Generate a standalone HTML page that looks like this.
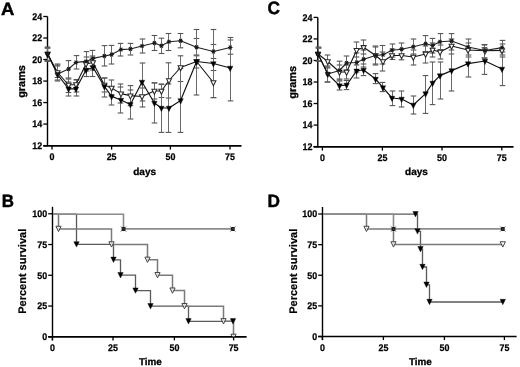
<!DOCTYPE html>
<html><head><meta charset="utf-8"><title>Figure</title><style>html,body{margin:0;padding:0;background:#fff;width:520px;height:367px;overflow:hidden;}body{position:relative;font-family:"Liberation Sans", sans-serif;}svg{position:absolute;left:0;top:0;font-family:"Liberation Sans", sans-serif;filter:grayscale(100%);}</style></head><body>
<svg width="520" height="367" viewBox="0 0 520 367" text-rendering="geometricPrecision" >
<rect width="520" height="367" fill="#fff"/>
<text transform="translate(0.9 14.8) scale(1.04 1)" font-size="17.8" font-weight="bold" fill="#000" stroke="#000" stroke-width="0.45">A</text>
<text transform="translate(267.6 14) scale(0.97 1)" font-size="17.8" font-weight="bold" fill="#000" stroke="#000" stroke-width="0.45">C</text>
<text transform="translate(1.8 207.3) scale(0.95 1)" font-size="17.8" font-weight="bold" fill="#000" stroke="#000" stroke-width="0.45">B</text>
<text transform="translate(267.4 207.2) scale(0.97 1)" font-size="17.8" font-weight="bold" fill="#000" stroke="#000" stroke-width="0.45">D</text>
<line x1="47.5" y1="16.5" x2="47.5" y2="146.2" stroke="#000" stroke-width="1.4" />
<line x1="43.3" y1="16.5" x2="47.5" y2="16.5" stroke="#000" stroke-width="1.3" />
<text transform="translate(42.2 19.9) scale(0.93 1)" font-size="9.6" font-weight="bold" text-anchor="end" fill="#000" stroke="#000" stroke-width="0.25">24</text>
<line x1="43.3" y1="38.02" x2="47.5" y2="38.02" stroke="#000" stroke-width="1.3" />
<text transform="translate(42.2 41.42) scale(0.93 1)" font-size="9.6" font-weight="bold" text-anchor="end" fill="#000" stroke="#000" stroke-width="0.25">22</text>
<line x1="43.3" y1="59.53" x2="47.5" y2="59.53" stroke="#000" stroke-width="1.3" />
<text transform="translate(42.2 62.93) scale(0.93 1)" font-size="9.6" font-weight="bold" text-anchor="end" fill="#000" stroke="#000" stroke-width="0.25">20</text>
<line x1="43.3" y1="81.05" x2="47.5" y2="81.05" stroke="#000" stroke-width="1.3" />
<text transform="translate(42.2 84.45) scale(0.93 1)" font-size="9.6" font-weight="bold" text-anchor="end" fill="#000" stroke="#000" stroke-width="0.25">18</text>
<line x1="43.3" y1="102.57" x2="47.5" y2="102.57" stroke="#000" stroke-width="1.3" />
<text transform="translate(42.2 105.97) scale(0.93 1)" font-size="9.6" font-weight="bold" text-anchor="end" fill="#000" stroke="#000" stroke-width="0.25">16</text>
<line x1="43.3" y1="124.08" x2="47.5" y2="124.08" stroke="#000" stroke-width="1.3" />
<text transform="translate(42.2 127.48) scale(0.93 1)" font-size="9.6" font-weight="bold" text-anchor="end" fill="#000" stroke="#000" stroke-width="0.25">14</text>
<line x1="43.3" y1="145.6" x2="47.5" y2="145.6" stroke="#000" stroke-width="1.3" />
<text transform="translate(42.2 149) scale(0.93 1)" font-size="9.6" font-weight="bold" text-anchor="end" fill="#000" stroke="#000" stroke-width="0.25">12</text>
<line x1="43.3" y1="145.9" x2="241.5" y2="145.9" stroke="#000" stroke-width="1.8" />
<line x1="52" y1="145.6" x2="52" y2="149.6" stroke="#000" stroke-width="1.3" />
<text transform="translate(52 160.2) scale(0.93 1)" font-size="9.6" font-weight="bold" text-anchor="middle" fill="#000" stroke="#000" stroke-width="0.25">0</text>
<line x1="111.6" y1="145.6" x2="111.6" y2="149.6" stroke="#000" stroke-width="1.3" />
<text transform="translate(111.6 160.2) scale(0.93 1)" font-size="9.6" font-weight="bold" text-anchor="middle" fill="#000" stroke="#000" stroke-width="0.25">25</text>
<line x1="170.4" y1="145.6" x2="170.4" y2="149.6" stroke="#000" stroke-width="1.3" />
<text transform="translate(170.4 160.2) scale(0.93 1)" font-size="9.6" font-weight="bold" text-anchor="middle" fill="#000" stroke="#000" stroke-width="0.25">50</text>
<line x1="230" y1="145.6" x2="230" y2="149.6" stroke="#000" stroke-width="1.3" />
<text transform="translate(230 160.2) scale(0.93 1)" font-size="9.6" font-weight="bold" text-anchor="middle" fill="#000" stroke="#000" stroke-width="0.25">75</text>
<text transform="translate(144.6 174.5)" font-size="10" font-weight="bold" text-anchor="middle" fill="#000" stroke="#000" stroke-width="0.3">days</text>
<text transform="translate(24.8 81.45) rotate(-90)" font-size="10.9" font-weight="bold" text-anchor="middle" fill="#000" stroke="#000" stroke-width="0.3">grams</text>
<line x1="47.5" y1="48" x2="47.5" y2="61" stroke="#6a6a6a" stroke-width="1.0" />
<line x1="44.7" y1="48" x2="50.3" y2="48" stroke="#555" stroke-width="1.1" />
<line x1="44.7" y1="61" x2="50.3" y2="61" stroke="#555" stroke-width="1.1" />
<line x1="57.5" y1="64" x2="57.5" y2="80" stroke="#6a6a6a" stroke-width="1.0" />
<line x1="54.7" y1="64" x2="60.3" y2="64" stroke="#555" stroke-width="1.1" />
<line x1="54.7" y1="80" x2="60.3" y2="80" stroke="#555" stroke-width="1.1" />
<line x1="68.5" y1="60.6" x2="68.5" y2="78" stroke="#6a6a6a" stroke-width="1.0" />
<line x1="65.7" y1="60.6" x2="71.3" y2="60.6" stroke="#555" stroke-width="1.1" />
<line x1="65.7" y1="78" x2="71.3" y2="78" stroke="#555" stroke-width="1.1" />
<line x1="76.5" y1="55.6" x2="76.5" y2="69" stroke="#6a6a6a" stroke-width="1.0" />
<line x1="73.7" y1="55.6" x2="79.3" y2="55.6" stroke="#555" stroke-width="1.1" />
<line x1="73.7" y1="69" x2="79.3" y2="69" stroke="#555" stroke-width="1.1" />
<line x1="86.5" y1="51.6" x2="86.5" y2="69" stroke="#6a6a6a" stroke-width="1.0" />
<line x1="83.7" y1="51.6" x2="89.3" y2="51.6" stroke="#555" stroke-width="1.1" />
<line x1="83.7" y1="69" x2="89.3" y2="69" stroke="#555" stroke-width="1.1" />
<line x1="92.5" y1="50.4" x2="92.5" y2="66" stroke="#6a6a6a" stroke-width="1.0" />
<line x1="89.7" y1="50.4" x2="95.3" y2="50.4" stroke="#555" stroke-width="1.1" />
<line x1="89.7" y1="66" x2="95.3" y2="66" stroke="#555" stroke-width="1.1" />
<line x1="104.5" y1="45.6" x2="104.5" y2="66" stroke="#6a6a6a" stroke-width="1.0" />
<line x1="101.7" y1="45.6" x2="107.3" y2="45.6" stroke="#555" stroke-width="1.1" />
<line x1="101.7" y1="66" x2="107.3" y2="66" stroke="#555" stroke-width="1.1" />
<line x1="111.5" y1="45.4" x2="111.5" y2="64" stroke="#6a6a6a" stroke-width="1.0" />
<line x1="108.7" y1="45.4" x2="114.3" y2="45.4" stroke="#555" stroke-width="1.1" />
<line x1="108.7" y1="64" x2="114.3" y2="64" stroke="#555" stroke-width="1.1" />
<line x1="120.5" y1="43.4" x2="120.5" y2="56" stroke="#6a6a6a" stroke-width="1.0" />
<line x1="117.7" y1="43.4" x2="123.3" y2="43.4" stroke="#555" stroke-width="1.1" />
<line x1="117.7" y1="56" x2="123.3" y2="56" stroke="#555" stroke-width="1.1" />
<line x1="130.5" y1="43.4" x2="130.5" y2="55" stroke="#6a6a6a" stroke-width="1.0" />
<line x1="127.7" y1="43.4" x2="133.3" y2="43.4" stroke="#555" stroke-width="1.1" />
<line x1="127.7" y1="55" x2="133.3" y2="55" stroke="#555" stroke-width="1.1" />
<line x1="142.5" y1="39" x2="142.5" y2="53" stroke="#6a6a6a" stroke-width="1.0" />
<line x1="139.7" y1="39" x2="145.3" y2="39" stroke="#555" stroke-width="1.1" />
<line x1="139.7" y1="53" x2="145.3" y2="53" stroke="#555" stroke-width="1.1" />
<line x1="154.5" y1="35.5" x2="154.5" y2="50.5" stroke="#6a6a6a" stroke-width="1.0" />
<line x1="151.7" y1="35.5" x2="157.3" y2="35.5" stroke="#555" stroke-width="1.1" />
<line x1="151.7" y1="50.5" x2="157.3" y2="50.5" stroke="#555" stroke-width="1.1" />
<line x1="161.5" y1="38.2" x2="161.5" y2="53.5" stroke="#6a6a6a" stroke-width="1.0" />
<line x1="158.7" y1="38.2" x2="164.3" y2="38.2" stroke="#555" stroke-width="1.1" />
<line x1="158.7" y1="53.5" x2="164.3" y2="53.5" stroke="#555" stroke-width="1.1" />
<line x1="168.5" y1="33.5" x2="168.5" y2="50.5" stroke="#6a6a6a" stroke-width="1.0" />
<line x1="165.7" y1="33.5" x2="171.3" y2="33.5" stroke="#555" stroke-width="1.1" />
<line x1="165.7" y1="50.5" x2="171.3" y2="50.5" stroke="#555" stroke-width="1.1" />
<line x1="180.5" y1="33.5" x2="180.5" y2="47.8" stroke="#6a6a6a" stroke-width="1.0" />
<line x1="177.7" y1="33.5" x2="183.3" y2="33.5" stroke="#555" stroke-width="1.1" />
<line x1="177.7" y1="47.8" x2="183.3" y2="47.8" stroke="#555" stroke-width="1.1" />
<line x1="196.5" y1="38.5" x2="196.5" y2="55.8" stroke="#6a6a6a" stroke-width="1.0" />
<line x1="193.7" y1="38.5" x2="199.3" y2="38.5" stroke="#555" stroke-width="1.1" />
<line x1="193.7" y1="55.8" x2="199.3" y2="55.8" stroke="#555" stroke-width="1.1" />
<line x1="213.5" y1="44.5" x2="213.5" y2="58.5" stroke="#6a6a6a" stroke-width="1.0" />
<line x1="210.7" y1="44.5" x2="216.3" y2="44.5" stroke="#555" stroke-width="1.1" />
<line x1="210.7" y1="58.5" x2="216.3" y2="58.5" stroke="#555" stroke-width="1.1" />
<line x1="230.5" y1="40" x2="230.5" y2="54.2" stroke="#6a6a6a" stroke-width="1.0" />
<line x1="227.7" y1="40" x2="233.3" y2="40" stroke="#555" stroke-width="1.1" />
<line x1="227.7" y1="54.2" x2="233.3" y2="54.2" stroke="#555" stroke-width="1.1" />
<line x1="47.5" y1="48" x2="47.5" y2="61" stroke="#6a6a6a" stroke-width="1.0" />
<line x1="44.7" y1="48" x2="50.3" y2="48" stroke="#555" stroke-width="1.1" />
<line x1="44.7" y1="61" x2="50.3" y2="61" stroke="#555" stroke-width="1.1" />
<line x1="57.5" y1="65" x2="57.5" y2="77.5" stroke="#6a6a6a" stroke-width="1.0" />
<line x1="54.7" y1="65" x2="60.3" y2="65" stroke="#555" stroke-width="1.1" />
<line x1="54.7" y1="77.5" x2="60.3" y2="77.5" stroke="#555" stroke-width="1.1" />
<line x1="68.5" y1="79" x2="68.5" y2="92.5" stroke="#6a6a6a" stroke-width="1.0" />
<line x1="65.7" y1="79" x2="71.3" y2="79" stroke="#555" stroke-width="1.1" />
<line x1="65.7" y1="92.5" x2="71.3" y2="92.5" stroke="#555" stroke-width="1.1" />
<line x1="76.5" y1="79.5" x2="76.5" y2="92" stroke="#6a6a6a" stroke-width="1.0" />
<line x1="73.7" y1="79.5" x2="79.3" y2="79.5" stroke="#555" stroke-width="1.1" />
<line x1="73.7" y1="92" x2="79.3" y2="92" stroke="#555" stroke-width="1.1" />
<line x1="86.5" y1="57" x2="86.5" y2="71" stroke="#6a6a6a" stroke-width="1.0" />
<line x1="83.7" y1="57" x2="89.3" y2="57" stroke="#555" stroke-width="1.1" />
<line x1="83.7" y1="71" x2="89.3" y2="71" stroke="#555" stroke-width="1.1" />
<line x1="92.5" y1="56" x2="92.5" y2="70" stroke="#6a6a6a" stroke-width="1.0" />
<line x1="89.7" y1="56" x2="95.3" y2="56" stroke="#555" stroke-width="1.1" />
<line x1="89.7" y1="70" x2="95.3" y2="70" stroke="#555" stroke-width="1.1" />
<line x1="104.5" y1="78" x2="104.5" y2="92" stroke="#6a6a6a" stroke-width="1.0" />
<line x1="101.7" y1="78" x2="107.3" y2="78" stroke="#555" stroke-width="1.1" />
<line x1="101.7" y1="92" x2="107.3" y2="92" stroke="#555" stroke-width="1.1" />
<line x1="111.5" y1="80" x2="111.5" y2="96" stroke="#6a6a6a" stroke-width="1.0" />
<line x1="108.7" y1="80" x2="114.3" y2="80" stroke="#555" stroke-width="1.1" />
<line x1="108.7" y1="96" x2="114.3" y2="96" stroke="#555" stroke-width="1.1" />
<line x1="120.5" y1="84" x2="120.5" y2="103" stroke="#6a6a6a" stroke-width="1.0" />
<line x1="117.7" y1="84" x2="123.3" y2="84" stroke="#555" stroke-width="1.1" />
<line x1="117.7" y1="103" x2="123.3" y2="103" stroke="#555" stroke-width="1.1" />
<line x1="130.5" y1="85.6" x2="130.5" y2="105.6" stroke="#6a6a6a" stroke-width="1.0" />
<line x1="127.7" y1="85.6" x2="133.3" y2="85.6" stroke="#555" stroke-width="1.1" />
<line x1="127.7" y1="105.6" x2="133.3" y2="105.6" stroke="#555" stroke-width="1.1" />
<line x1="142.5" y1="88" x2="142.5" y2="107" stroke="#6a6a6a" stroke-width="1.0" />
<line x1="139.7" y1="88" x2="145.3" y2="88" stroke="#555" stroke-width="1.1" />
<line x1="139.7" y1="107" x2="145.3" y2="107" stroke="#555" stroke-width="1.1" />
<line x1="154.5" y1="82.8" x2="154.5" y2="99" stroke="#6a6a6a" stroke-width="1.0" />
<line x1="151.7" y1="82.8" x2="157.3" y2="82.8" stroke="#555" stroke-width="1.1" />
<line x1="151.7" y1="99" x2="157.3" y2="99" stroke="#555" stroke-width="1.1" />
<line x1="161.5" y1="84.5" x2="161.5" y2="97.5" stroke="#6a6a6a" stroke-width="1.0" />
<line x1="158.7" y1="84.5" x2="164.3" y2="84.5" stroke="#555" stroke-width="1.1" />
<line x1="158.7" y1="97.5" x2="164.3" y2="97.5" stroke="#555" stroke-width="1.1" />
<line x1="168.5" y1="62.8" x2="168.5" y2="98" stroke="#6a6a6a" stroke-width="1.0" />
<line x1="165.7" y1="62.8" x2="171.3" y2="62.8" stroke="#555" stroke-width="1.1" />
<line x1="165.7" y1="98" x2="171.3" y2="98" stroke="#555" stroke-width="1.1" />
<line x1="180.5" y1="55.8" x2="180.5" y2="81.5" stroke="#6a6a6a" stroke-width="1.0" />
<line x1="177.7" y1="55.8" x2="183.3" y2="55.8" stroke="#555" stroke-width="1.1" />
<line x1="177.7" y1="81.5" x2="183.3" y2="81.5" stroke="#555" stroke-width="1.1" />
<line x1="196.5" y1="55" x2="196.5" y2="68" stroke="#6a6a6a" stroke-width="1.0" />
<line x1="193.7" y1="55" x2="199.3" y2="55" stroke="#555" stroke-width="1.1" />
<line x1="193.7" y1="68" x2="199.3" y2="68" stroke="#555" stroke-width="1.1" />
<line x1="213.5" y1="70.5" x2="213.5" y2="97.6" stroke="#6a6a6a" stroke-width="1.0" />
<line x1="210.7" y1="70.5" x2="216.3" y2="70.5" stroke="#555" stroke-width="1.1" />
<line x1="210.7" y1="97.6" x2="216.3" y2="97.6" stroke="#555" stroke-width="1.1" />
<line x1="47.5" y1="47" x2="47.5" y2="61" stroke="#6a6a6a" stroke-width="1.0" />
<line x1="44.7" y1="47" x2="50.3" y2="47" stroke="#555" stroke-width="1.1" />
<line x1="44.7" y1="61" x2="50.3" y2="61" stroke="#555" stroke-width="1.1" />
<line x1="57.5" y1="66" x2="57.5" y2="81" stroke="#6a6a6a" stroke-width="1.0" />
<line x1="54.7" y1="66" x2="60.3" y2="66" stroke="#555" stroke-width="1.1" />
<line x1="54.7" y1="81" x2="60.3" y2="81" stroke="#555" stroke-width="1.1" />
<line x1="68.5" y1="82" x2="68.5" y2="96" stroke="#6a6a6a" stroke-width="1.0" />
<line x1="65.7" y1="82" x2="71.3" y2="82" stroke="#555" stroke-width="1.1" />
<line x1="65.7" y1="96" x2="71.3" y2="96" stroke="#555" stroke-width="1.1" />
<line x1="76.5" y1="80" x2="76.5" y2="96" stroke="#6a6a6a" stroke-width="1.0" />
<line x1="73.7" y1="80" x2="79.3" y2="80" stroke="#555" stroke-width="1.1" />
<line x1="73.7" y1="96" x2="79.3" y2="96" stroke="#555" stroke-width="1.1" />
<line x1="86.5" y1="61" x2="86.5" y2="76.5" stroke="#6a6a6a" stroke-width="1.0" />
<line x1="83.7" y1="61" x2="89.3" y2="61" stroke="#555" stroke-width="1.1" />
<line x1="83.7" y1="76.5" x2="89.3" y2="76.5" stroke="#555" stroke-width="1.1" />
<line x1="92.5" y1="58" x2="92.5" y2="76.5" stroke="#6a6a6a" stroke-width="1.0" />
<line x1="89.7" y1="58" x2="95.3" y2="58" stroke="#555" stroke-width="1.1" />
<line x1="89.7" y1="76.5" x2="95.3" y2="76.5" stroke="#555" stroke-width="1.1" />
<line x1="104.5" y1="78" x2="104.5" y2="97" stroke="#6a6a6a" stroke-width="1.0" />
<line x1="101.7" y1="78" x2="107.3" y2="78" stroke="#555" stroke-width="1.1" />
<line x1="101.7" y1="97" x2="107.3" y2="97" stroke="#555" stroke-width="1.1" />
<line x1="111.5" y1="87" x2="111.5" y2="105" stroke="#6a6a6a" stroke-width="1.0" />
<line x1="108.7" y1="87" x2="114.3" y2="87" stroke="#555" stroke-width="1.1" />
<line x1="108.7" y1="105" x2="114.3" y2="105" stroke="#555" stroke-width="1.1" />
<line x1="120.5" y1="87" x2="120.5" y2="113" stroke="#6a6a6a" stroke-width="1.0" />
<line x1="117.7" y1="87" x2="123.3" y2="87" stroke="#555" stroke-width="1.1" />
<line x1="117.7" y1="113" x2="123.3" y2="113" stroke="#555" stroke-width="1.1" />
<line x1="130.5" y1="90" x2="130.5" y2="119" stroke="#6a6a6a" stroke-width="1.0" />
<line x1="127.7" y1="90" x2="133.3" y2="90" stroke="#555" stroke-width="1.1" />
<line x1="127.7" y1="119" x2="133.3" y2="119" stroke="#555" stroke-width="1.1" />
<line x1="142.5" y1="63" x2="142.5" y2="101" stroke="#6a6a6a" stroke-width="1.0" />
<line x1="139.7" y1="63" x2="145.3" y2="63" stroke="#555" stroke-width="1.1" />
<line x1="139.7" y1="101" x2="145.3" y2="101" stroke="#555" stroke-width="1.1" />
<line x1="154.5" y1="83" x2="154.5" y2="123" stroke="#6a6a6a" stroke-width="1.0" />
<line x1="151.7" y1="83" x2="157.3" y2="83" stroke="#555" stroke-width="1.1" />
<line x1="151.7" y1="123" x2="157.3" y2="123" stroke="#555" stroke-width="1.1" />
<line x1="161.5" y1="84" x2="161.5" y2="132.4" stroke="#6a6a6a" stroke-width="1.0" />
<line x1="158.7" y1="84" x2="164.3" y2="84" stroke="#555" stroke-width="1.1" />
<line x1="158.7" y1="132.4" x2="164.3" y2="132.4" stroke="#555" stroke-width="1.1" />
<line x1="168.5" y1="84" x2="168.5" y2="132.4" stroke="#6a6a6a" stroke-width="1.0" />
<line x1="165.7" y1="84" x2="171.3" y2="84" stroke="#555" stroke-width="1.1" />
<line x1="165.7" y1="132.4" x2="171.3" y2="132.4" stroke="#555" stroke-width="1.1" />
<line x1="180.5" y1="68.6" x2="180.5" y2="132.4" stroke="#6a6a6a" stroke-width="1.0" />
<line x1="177.7" y1="68.6" x2="183.3" y2="68.6" stroke="#555" stroke-width="1.1" />
<line x1="177.7" y1="132.4" x2="183.3" y2="132.4" stroke="#555" stroke-width="1.1" />
<line x1="196.5" y1="29.5" x2="196.5" y2="95" stroke="#6a6a6a" stroke-width="1.0" />
<line x1="193.7" y1="29.5" x2="199.3" y2="29.5" stroke="#555" stroke-width="1.1" />
<line x1="193.7" y1="95" x2="199.3" y2="95" stroke="#555" stroke-width="1.1" />
<line x1="213.5" y1="29.5" x2="213.5" y2="97.6" stroke="#6a6a6a" stroke-width="1.0" />
<line x1="210.7" y1="29.5" x2="216.3" y2="29.5" stroke="#555" stroke-width="1.1" />
<line x1="210.7" y1="97.6" x2="216.3" y2="97.6" stroke="#555" stroke-width="1.1" />
<line x1="230.5" y1="37.5" x2="230.5" y2="100.9" stroke="#6a6a6a" stroke-width="1.0" />
<line x1="227.7" y1="37.5" x2="233.3" y2="37.5" stroke="#555" stroke-width="1.1" />
<line x1="227.7" y1="100.9" x2="233.3" y2="100.9" stroke="#555" stroke-width="1.1" />
<polyline points="47.6,54 57.6,74 68.6,69 76,62.4 86,61.4 93,58.4 104.4,56 111.6,54.6 121,49.6 130.4,49 142,46 154.4,43 161.4,45.8 169,41.8 180.6,40.8 196.6,47.2 213.4,51.5 230.2,47.5" fill="none" stroke="#222" stroke-width="1.1" stroke-linejoin="round"/>
<polyline points="47.6,54 57.6,72.5 68.6,85 76,84.5 86,64 93,62.5 104.4,85 111.6,88 121,93.6 130.4,95.6 142,96.5 154.4,91 161.4,91 169,80.5 180.6,67.5 196.6,61.5 213.4,82.5" fill="none" stroke="#151515" stroke-width="1.1" stroke-linejoin="round"/>
<polyline points="47.6,54 57.6,74.5 68.6,88.8 76,88.8 86,70 93,67.5 104.4,86.4 111.6,96.4 121,100 130.4,104.4 142,82 154.4,103 161.4,108 169,108 180.6,100.5 196.6,61.5 213.4,63.5 230.2,68" fill="none" stroke="#111" stroke-width="1.15" stroke-linejoin="round"/>
<polygon points="45.1,52.33 50.1,52.33 47.6,57.33" fill="#fff" fill-opacity="1.0" stroke="#2a2a2a" stroke-width="1.05" stroke-linejoin="miter"/>
<polygon points="55.1,70.83 60.1,70.83 57.6,75.83" fill="#fff" fill-opacity="1.0" stroke="#2a2a2a" stroke-width="1.05" stroke-linejoin="miter"/>
<polygon points="66.1,83.33 71.1,83.33 68.6,88.33" fill="#fff" fill-opacity="1.0" stroke="#2a2a2a" stroke-width="1.05" stroke-linejoin="miter"/>
<polygon points="73.5,82.83 78.5,82.83 76,87.83" fill="#fff" fill-opacity="1.0" stroke="#2a2a2a" stroke-width="1.05" stroke-linejoin="miter"/>
<polygon points="83.5,62.33 88.5,62.33 86,67.33" fill="#fff" fill-opacity="1.0" stroke="#2a2a2a" stroke-width="1.05" stroke-linejoin="miter"/>
<polygon points="90.5,60.83 95.5,60.83 93,65.83" fill="#fff" fill-opacity="1.0" stroke="#2a2a2a" stroke-width="1.05" stroke-linejoin="miter"/>
<polygon points="101.9,83.33 106.9,83.33 104.4,88.33" fill="#fff" fill-opacity="1.0" stroke="#2a2a2a" stroke-width="1.05" stroke-linejoin="miter"/>
<polygon points="109.1,86.33 114.1,86.33 111.6,91.33" fill="#fff" fill-opacity="1.0" stroke="#2a2a2a" stroke-width="1.05" stroke-linejoin="miter"/>
<polygon points="118.5,91.93 123.5,91.93 121,96.93" fill="#fff" fill-opacity="1.0" stroke="#2a2a2a" stroke-width="1.05" stroke-linejoin="miter"/>
<polygon points="127.9,93.93 132.9,93.93 130.4,98.93" fill="#fff" fill-opacity="1.0" stroke="#2a2a2a" stroke-width="1.05" stroke-linejoin="miter"/>
<polygon points="139.5,94.83 144.5,94.83 142,99.83" fill="#fff" fill-opacity="1.0" stroke="#2a2a2a" stroke-width="1.05" stroke-linejoin="miter"/>
<polygon points="151.9,89.33 156.9,89.33 154.4,94.33" fill="#fff" fill-opacity="1.0" stroke="#2a2a2a" stroke-width="1.05" stroke-linejoin="miter"/>
<polygon points="158.9,89.33 163.9,89.33 161.4,94.33" fill="#fff" fill-opacity="1.0" stroke="#2a2a2a" stroke-width="1.05" stroke-linejoin="miter"/>
<polygon points="166.5,78.83 171.5,78.83 169,83.83" fill="#fff" fill-opacity="1.0" stroke="#2a2a2a" stroke-width="1.05" stroke-linejoin="miter"/>
<polygon points="178.1,65.83 183.1,65.83 180.6,70.83" fill="#fff" fill-opacity="1.0" stroke="#2a2a2a" stroke-width="1.05" stroke-linejoin="miter"/>
<polygon points="194.1,59.83 199.1,59.83 196.6,64.83" fill="#fff" fill-opacity="1.0" stroke="#2a2a2a" stroke-width="1.05" stroke-linejoin="miter"/>
<polygon points="210.9,80.83 215.9,80.83 213.4,85.83" fill="#fff" fill-opacity="1.0" stroke="#2a2a2a" stroke-width="1.05" stroke-linejoin="miter"/>
<polygon points="44.9,52.2 50.3,52.2 47.6,57.6" fill="#000" stroke="#000" stroke-width="0.4"/>
<polygon points="54.9,72.7 60.3,72.7 57.6,78.1" fill="#000" stroke="#000" stroke-width="0.4"/>
<polygon points="65.9,87 71.3,87 68.6,92.4" fill="#000" stroke="#000" stroke-width="0.4"/>
<polygon points="73.3,87 78.7,87 76,92.4" fill="#000" stroke="#000" stroke-width="0.4"/>
<polygon points="83.3,68.2 88.7,68.2 86,73.6" fill="#000" stroke="#000" stroke-width="0.4"/>
<polygon points="90.3,65.7 95.7,65.7 93,71.1" fill="#000" stroke="#000" stroke-width="0.4"/>
<polygon points="101.7,84.6 107.1,84.6 104.4,90" fill="#000" stroke="#000" stroke-width="0.4"/>
<polygon points="108.9,94.6 114.3,94.6 111.6,100" fill="#000" stroke="#000" stroke-width="0.4"/>
<polygon points="118.3,98.2 123.7,98.2 121,103.6" fill="#000" stroke="#000" stroke-width="0.4"/>
<polygon points="127.7,102.6 133.1,102.6 130.4,108" fill="#000" stroke="#000" stroke-width="0.4"/>
<polygon points="139.3,80.2 144.7,80.2 142,85.6" fill="#000" stroke="#000" stroke-width="0.4"/>
<polygon points="151.7,101.2 157.1,101.2 154.4,106.6" fill="#000" stroke="#000" stroke-width="0.4"/>
<polygon points="158.7,106.2 164.1,106.2 161.4,111.6" fill="#000" stroke="#000" stroke-width="0.4"/>
<polygon points="166.3,106.2 171.7,106.2 169,111.6" fill="#000" stroke="#000" stroke-width="0.4"/>
<polygon points="177.9,98.7 183.3,98.7 180.6,104.1" fill="#000" stroke="#000" stroke-width="0.4"/>
<polygon points="193.9,59.7 199.3,59.7 196.6,65.1" fill="#000" stroke="#000" stroke-width="0.4"/>
<polygon points="210.7,61.7 216.1,61.7 213.4,67.1" fill="#000" stroke="#000" stroke-width="0.4"/>
<polygon points="227.5,66.2 232.9,66.2 230.2,71.6" fill="#000" stroke="#000" stroke-width="0.4"/>
<g stroke="#1a1a1a" stroke-width="1.1"><line x1="45.3" y1="54" x2="49.9" y2="54"/><line x1="46.22" y1="52.05" x2="48.98" y2="55.95"/><line x1="46.22" y1="55.95" x2="48.98" y2="52.05"/></g>
<circle cx="47.6" cy="54" r="1.25" fill="#1a1a1a"/>
<g stroke="#1a1a1a" stroke-width="1.1"><line x1="55.3" y1="74" x2="59.9" y2="74"/><line x1="56.22" y1="72.05" x2="58.98" y2="75.95"/><line x1="56.22" y1="75.95" x2="58.98" y2="72.05"/></g>
<circle cx="57.6" cy="74" r="1.25" fill="#1a1a1a"/>
<g stroke="#1a1a1a" stroke-width="1.1"><line x1="66.3" y1="69" x2="70.9" y2="69"/><line x1="67.22" y1="67.05" x2="69.98" y2="70.95"/><line x1="67.22" y1="70.95" x2="69.98" y2="67.05"/></g>
<circle cx="68.6" cy="69" r="1.25" fill="#1a1a1a"/>
<g stroke="#1a1a1a" stroke-width="1.1"><line x1="73.7" y1="62.4" x2="78.3" y2="62.4"/><line x1="74.62" y1="60.45" x2="77.38" y2="64.36"/><line x1="74.62" y1="64.36" x2="77.38" y2="60.45"/></g>
<circle cx="76" cy="62.4" r="1.25" fill="#1a1a1a"/>
<g stroke="#1a1a1a" stroke-width="1.1"><line x1="83.7" y1="61.4" x2="88.3" y2="61.4"/><line x1="84.62" y1="59.45" x2="87.38" y2="63.35"/><line x1="84.62" y1="63.35" x2="87.38" y2="59.45"/></g>
<circle cx="86" cy="61.4" r="1.25" fill="#1a1a1a"/>
<g stroke="#1a1a1a" stroke-width="1.1"><line x1="90.7" y1="58.4" x2="95.3" y2="58.4"/><line x1="91.62" y1="56.45" x2="94.38" y2="60.35"/><line x1="91.62" y1="60.35" x2="94.38" y2="56.45"/></g>
<circle cx="93" cy="58.4" r="1.25" fill="#1a1a1a"/>
<g stroke="#1a1a1a" stroke-width="1.1"><line x1="102.1" y1="56" x2="106.7" y2="56"/><line x1="103.02" y1="54.05" x2="105.78" y2="57.95"/><line x1="103.02" y1="57.95" x2="105.78" y2="54.05"/></g>
<circle cx="104.4" cy="56" r="1.25" fill="#1a1a1a"/>
<g stroke="#1a1a1a" stroke-width="1.1"><line x1="109.3" y1="54.6" x2="113.9" y2="54.6"/><line x1="110.22" y1="52.65" x2="112.98" y2="56.55"/><line x1="110.22" y1="56.55" x2="112.98" y2="52.65"/></g>
<circle cx="111.6" cy="54.6" r="1.25" fill="#1a1a1a"/>
<g stroke="#1a1a1a" stroke-width="1.1"><line x1="118.7" y1="49.6" x2="123.3" y2="49.6"/><line x1="119.62" y1="47.65" x2="122.38" y2="51.55"/><line x1="119.62" y1="51.55" x2="122.38" y2="47.65"/></g>
<circle cx="121" cy="49.6" r="1.25" fill="#1a1a1a"/>
<g stroke="#1a1a1a" stroke-width="1.1"><line x1="128.1" y1="49" x2="132.7" y2="49"/><line x1="129.02" y1="47.05" x2="131.78" y2="50.95"/><line x1="129.02" y1="50.95" x2="131.78" y2="47.05"/></g>
<circle cx="130.4" cy="49" r="1.25" fill="#1a1a1a"/>
<g stroke="#1a1a1a" stroke-width="1.1"><line x1="139.7" y1="46" x2="144.3" y2="46"/><line x1="140.62" y1="44.05" x2="143.38" y2="47.95"/><line x1="140.62" y1="47.95" x2="143.38" y2="44.05"/></g>
<circle cx="142" cy="46" r="1.25" fill="#1a1a1a"/>
<g stroke="#1a1a1a" stroke-width="1.1"><line x1="152.1" y1="43" x2="156.7" y2="43"/><line x1="153.02" y1="41.05" x2="155.78" y2="44.95"/><line x1="153.02" y1="44.95" x2="155.78" y2="41.05"/></g>
<circle cx="154.4" cy="43" r="1.25" fill="#1a1a1a"/>
<g stroke="#1a1a1a" stroke-width="1.1"><line x1="159.1" y1="45.8" x2="163.7" y2="45.8"/><line x1="160.02" y1="43.84" x2="162.78" y2="47.75"/><line x1="160.02" y1="47.75" x2="162.78" y2="43.84"/></g>
<circle cx="161.4" cy="45.8" r="1.25" fill="#1a1a1a"/>
<g stroke="#1a1a1a" stroke-width="1.1"><line x1="166.7" y1="41.8" x2="171.3" y2="41.8"/><line x1="167.62" y1="39.84" x2="170.38" y2="43.75"/><line x1="167.62" y1="43.75" x2="170.38" y2="39.84"/></g>
<circle cx="169" cy="41.8" r="1.25" fill="#1a1a1a"/>
<g stroke="#1a1a1a" stroke-width="1.1"><line x1="178.3" y1="40.8" x2="182.9" y2="40.8"/><line x1="179.22" y1="38.84" x2="181.98" y2="42.75"/><line x1="179.22" y1="42.75" x2="181.98" y2="38.84"/></g>
<circle cx="180.6" cy="40.8" r="1.25" fill="#1a1a1a"/>
<g stroke="#1a1a1a" stroke-width="1.1"><line x1="194.3" y1="47.2" x2="198.9" y2="47.2"/><line x1="195.22" y1="45.25" x2="197.98" y2="49.16"/><line x1="195.22" y1="49.16" x2="197.98" y2="45.25"/></g>
<circle cx="196.6" cy="47.2" r="1.25" fill="#1a1a1a"/>
<g stroke="#1a1a1a" stroke-width="1.1"><line x1="211.1" y1="51.5" x2="215.7" y2="51.5"/><line x1="212.02" y1="49.55" x2="214.78" y2="53.45"/><line x1="212.02" y1="53.45" x2="214.78" y2="49.55"/></g>
<circle cx="213.4" cy="51.5" r="1.25" fill="#1a1a1a"/>
<g stroke="#1a1a1a" stroke-width="1.1"><line x1="227.9" y1="47.5" x2="232.5" y2="47.5"/><line x1="228.82" y1="45.55" x2="231.58" y2="49.45"/><line x1="228.82" y1="49.45" x2="231.58" y2="45.55"/></g>
<circle cx="230.2" cy="47.5" r="1.25" fill="#1a1a1a"/>
<line x1="317.8" y1="17.4" x2="317.8" y2="147.2" stroke="#000" stroke-width="1.4" />
<line x1="313.6" y1="17.4" x2="317.8" y2="17.4" stroke="#000" stroke-width="1.3" />
<text transform="translate(312.5 20.8) scale(0.93 1)" font-size="9.6" font-weight="bold" text-anchor="end" fill="#000" stroke="#000" stroke-width="0.25">24</text>
<line x1="313.6" y1="38.93" x2="317.8" y2="38.93" stroke="#000" stroke-width="1.3" />
<text transform="translate(312.5 42.33) scale(0.93 1)" font-size="9.6" font-weight="bold" text-anchor="end" fill="#000" stroke="#000" stroke-width="0.25">22</text>
<line x1="313.6" y1="60.47" x2="317.8" y2="60.47" stroke="#000" stroke-width="1.3" />
<text transform="translate(312.5 63.87) scale(0.93 1)" font-size="9.6" font-weight="bold" text-anchor="end" fill="#000" stroke="#000" stroke-width="0.25">20</text>
<line x1="313.6" y1="82" x2="317.8" y2="82" stroke="#000" stroke-width="1.3" />
<text transform="translate(312.5 85.4) scale(0.93 1)" font-size="9.6" font-weight="bold" text-anchor="end" fill="#000" stroke="#000" stroke-width="0.25">18</text>
<line x1="313.6" y1="103.53" x2="317.8" y2="103.53" stroke="#000" stroke-width="1.3" />
<text transform="translate(312.5 106.93) scale(0.93 1)" font-size="9.6" font-weight="bold" text-anchor="end" fill="#000" stroke="#000" stroke-width="0.25">16</text>
<line x1="313.6" y1="125.07" x2="317.8" y2="125.07" stroke="#000" stroke-width="1.3" />
<text transform="translate(312.5 128.47) scale(0.93 1)" font-size="9.6" font-weight="bold" text-anchor="end" fill="#000" stroke="#000" stroke-width="0.25">14</text>
<line x1="313.6" y1="146.6" x2="317.8" y2="146.6" stroke="#000" stroke-width="1.3" />
<text transform="translate(312.5 150) scale(0.93 1)" font-size="9.6" font-weight="bold" text-anchor="end" fill="#000" stroke="#000" stroke-width="0.25">12</text>
<line x1="313.6" y1="146.9" x2="513.5" y2="146.9" stroke="#000" stroke-width="1.8" />
<line x1="322.4" y1="146.6" x2="322.4" y2="150.6" stroke="#000" stroke-width="1.3" />
<text transform="translate(322.4 161.2) scale(0.93 1)" font-size="9.6" font-weight="bold" text-anchor="middle" fill="#000" stroke="#000" stroke-width="0.25">0</text>
<line x1="382.4" y1="146.6" x2="382.4" y2="150.6" stroke="#000" stroke-width="1.3" />
<text transform="translate(382.4 161.2) scale(0.93 1)" font-size="9.6" font-weight="bold" text-anchor="middle" fill="#000" stroke="#000" stroke-width="0.25">25</text>
<line x1="442" y1="146.6" x2="442" y2="150.6" stroke="#000" stroke-width="1.3" />
<text transform="translate(442 161.2) scale(0.93 1)" font-size="9.6" font-weight="bold" text-anchor="middle" fill="#000" stroke="#000" stroke-width="0.25">50</text>
<line x1="501.8" y1="146.6" x2="501.8" y2="150.6" stroke="#000" stroke-width="1.3" />
<text transform="translate(501.8 161.2) scale(0.93 1)" font-size="9.6" font-weight="bold" text-anchor="middle" fill="#000" stroke="#000" stroke-width="0.25">75</text>
<text transform="translate(416.5 174.7)" font-size="10" font-weight="bold" text-anchor="middle" fill="#000" stroke="#000" stroke-width="0.3">days</text>
<text transform="translate(295.7 82.4) rotate(-90)" font-size="10.9" font-weight="bold" text-anchor="middle" fill="#000" stroke="#000" stroke-width="0.3">grams</text>
<line x1="318.5" y1="48" x2="318.5" y2="61" stroke="#6a6a6a" stroke-width="1.0" />
<line x1="315.7" y1="48" x2="321.3" y2="48" stroke="#555" stroke-width="1.1" />
<line x1="315.7" y1="61" x2="321.3" y2="61" stroke="#555" stroke-width="1.1" />
<line x1="327.5" y1="66" x2="327.5" y2="82" stroke="#6a6a6a" stroke-width="1.0" />
<line x1="324.7" y1="66" x2="330.3" y2="66" stroke="#555" stroke-width="1.1" />
<line x1="324.7" y1="82" x2="330.3" y2="82" stroke="#555" stroke-width="1.1" />
<line x1="339.5" y1="61.2" x2="339.5" y2="80" stroke="#6a6a6a" stroke-width="1.0" />
<line x1="336.7" y1="61.2" x2="342.3" y2="61.2" stroke="#555" stroke-width="1.1" />
<line x1="336.7" y1="80" x2="342.3" y2="80" stroke="#555" stroke-width="1.1" />
<line x1="346.5" y1="56" x2="346.5" y2="70" stroke="#6a6a6a" stroke-width="1.0" />
<line x1="343.7" y1="56" x2="349.3" y2="56" stroke="#555" stroke-width="1.1" />
<line x1="343.7" y1="70" x2="349.3" y2="70" stroke="#555" stroke-width="1.1" />
<line x1="356.5" y1="53" x2="356.5" y2="72" stroke="#6a6a6a" stroke-width="1.0" />
<line x1="353.7" y1="53" x2="359.3" y2="53" stroke="#555" stroke-width="1.1" />
<line x1="353.7" y1="72" x2="359.3" y2="72" stroke="#555" stroke-width="1.1" />
<line x1="363.5" y1="50" x2="363.5" y2="67" stroke="#6a6a6a" stroke-width="1.0" />
<line x1="360.7" y1="50" x2="366.3" y2="50" stroke="#555" stroke-width="1.1" />
<line x1="360.7" y1="67" x2="366.3" y2="67" stroke="#555" stroke-width="1.1" />
<line x1="375.5" y1="46" x2="375.5" y2="65" stroke="#6a6a6a" stroke-width="1.0" />
<line x1="372.7" y1="46" x2="378.3" y2="46" stroke="#555" stroke-width="1.1" />
<line x1="372.7" y1="65" x2="378.3" y2="65" stroke="#555" stroke-width="1.1" />
<line x1="382.5" y1="45.5" x2="382.5" y2="64" stroke="#6a6a6a" stroke-width="1.0" />
<line x1="379.7" y1="45.5" x2="385.3" y2="45.5" stroke="#555" stroke-width="1.1" />
<line x1="379.7" y1="64" x2="385.3" y2="64" stroke="#555" stroke-width="1.1" />
<line x1="392.5" y1="44" x2="392.5" y2="57" stroke="#6a6a6a" stroke-width="1.0" />
<line x1="389.7" y1="44" x2="395.3" y2="44" stroke="#555" stroke-width="1.1" />
<line x1="389.7" y1="57" x2="395.3" y2="57" stroke="#555" stroke-width="1.1" />
<line x1="401.5" y1="43" x2="401.5" y2="55.5" stroke="#6a6a6a" stroke-width="1.0" />
<line x1="398.7" y1="43" x2="404.3" y2="43" stroke="#555" stroke-width="1.1" />
<line x1="398.7" y1="55.5" x2="404.3" y2="55.5" stroke="#555" stroke-width="1.1" />
<line x1="413.5" y1="39" x2="413.5" y2="54" stroke="#6a6a6a" stroke-width="1.0" />
<line x1="410.7" y1="39" x2="416.3" y2="39" stroke="#555" stroke-width="1.1" />
<line x1="410.7" y1="54" x2="416.3" y2="54" stroke="#555" stroke-width="1.1" />
<line x1="425.5" y1="35.6" x2="425.5" y2="51.5" stroke="#6a6a6a" stroke-width="1.0" />
<line x1="422.7" y1="35.6" x2="428.3" y2="35.6" stroke="#555" stroke-width="1.1" />
<line x1="422.7" y1="51.5" x2="428.3" y2="51.5" stroke="#555" stroke-width="1.1" />
<line x1="432.5" y1="38.4" x2="432.5" y2="53" stroke="#6a6a6a" stroke-width="1.0" />
<line x1="429.7" y1="38.4" x2="435.3" y2="38.4" stroke="#555" stroke-width="1.1" />
<line x1="429.7" y1="53" x2="435.3" y2="53" stroke="#555" stroke-width="1.1" />
<line x1="440.5" y1="33.6" x2="440.5" y2="49.6" stroke="#6a6a6a" stroke-width="1.0" />
<line x1="437.7" y1="33.6" x2="443.3" y2="33.6" stroke="#555" stroke-width="1.1" />
<line x1="437.7" y1="49.6" x2="443.3" y2="49.6" stroke="#555" stroke-width="1.1" />
<line x1="451.5" y1="33.6" x2="451.5" y2="46.5" stroke="#6a6a6a" stroke-width="1.0" />
<line x1="448.7" y1="33.6" x2="454.3" y2="33.6" stroke="#555" stroke-width="1.1" />
<line x1="448.7" y1="46.5" x2="454.3" y2="46.5" stroke="#555" stroke-width="1.1" />
<line x1="468.5" y1="39" x2="468.5" y2="55" stroke="#6a6a6a" stroke-width="1.0" />
<line x1="465.7" y1="39" x2="471.3" y2="39" stroke="#555" stroke-width="1.1" />
<line x1="465.7" y1="55" x2="471.3" y2="55" stroke="#555" stroke-width="1.1" />
<line x1="484.5" y1="44.5" x2="484.5" y2="58" stroke="#6a6a6a" stroke-width="1.0" />
<line x1="481.7" y1="44.5" x2="487.3" y2="44.5" stroke="#555" stroke-width="1.1" />
<line x1="481.7" y1="58" x2="487.3" y2="58" stroke="#555" stroke-width="1.1" />
<line x1="502.5" y1="40.4" x2="502.5" y2="55" stroke="#6a6a6a" stroke-width="1.0" />
<line x1="499.7" y1="40.4" x2="505.3" y2="40.4" stroke="#555" stroke-width="1.1" />
<line x1="499.7" y1="55" x2="505.3" y2="55" stroke="#555" stroke-width="1.1" />
<line x1="318.5" y1="48" x2="318.5" y2="61" stroke="#6a6a6a" stroke-width="1.0" />
<line x1="315.7" y1="48" x2="321.3" y2="48" stroke="#555" stroke-width="1.1" />
<line x1="315.7" y1="61" x2="321.3" y2="61" stroke="#555" stroke-width="1.1" />
<line x1="327.5" y1="55" x2="327.5" y2="68" stroke="#6a6a6a" stroke-width="1.0" />
<line x1="324.7" y1="55" x2="330.3" y2="55" stroke="#555" stroke-width="1.1" />
<line x1="324.7" y1="68" x2="330.3" y2="68" stroke="#555" stroke-width="1.1" />
<line x1="339.5" y1="65" x2="339.5" y2="79" stroke="#6a6a6a" stroke-width="1.0" />
<line x1="336.7" y1="65" x2="342.3" y2="65" stroke="#555" stroke-width="1.1" />
<line x1="336.7" y1="79" x2="342.3" y2="79" stroke="#555" stroke-width="1.1" />
<line x1="346.5" y1="65" x2="346.5" y2="79" stroke="#6a6a6a" stroke-width="1.0" />
<line x1="343.7" y1="65" x2="349.3" y2="65" stroke="#555" stroke-width="1.1" />
<line x1="343.7" y1="79" x2="349.3" y2="79" stroke="#555" stroke-width="1.1" />
<line x1="356.5" y1="42" x2="356.5" y2="57" stroke="#6a6a6a" stroke-width="1.0" />
<line x1="353.7" y1="42" x2="359.3" y2="42" stroke="#555" stroke-width="1.1" />
<line x1="353.7" y1="57" x2="359.3" y2="57" stroke="#555" stroke-width="1.1" />
<line x1="363.5" y1="40" x2="363.5" y2="54" stroke="#6a6a6a" stroke-width="1.0" />
<line x1="360.7" y1="40" x2="366.3" y2="40" stroke="#555" stroke-width="1.1" />
<line x1="360.7" y1="54" x2="366.3" y2="54" stroke="#555" stroke-width="1.1" />
<line x1="375.5" y1="47" x2="375.5" y2="64" stroke="#6a6a6a" stroke-width="1.0" />
<line x1="372.7" y1="47" x2="378.3" y2="47" stroke="#555" stroke-width="1.1" />
<line x1="372.7" y1="64" x2="378.3" y2="64" stroke="#555" stroke-width="1.1" />
<line x1="382.5" y1="52" x2="382.5" y2="71" stroke="#6a6a6a" stroke-width="1.0" />
<line x1="379.7" y1="52" x2="385.3" y2="52" stroke="#555" stroke-width="1.1" />
<line x1="379.7" y1="71" x2="385.3" y2="71" stroke="#555" stroke-width="1.1" />
<line x1="392.5" y1="49" x2="392.5" y2="59.5" stroke="#6a6a6a" stroke-width="1.0" />
<line x1="389.7" y1="49" x2="395.3" y2="49" stroke="#555" stroke-width="1.1" />
<line x1="389.7" y1="59.5" x2="395.3" y2="59.5" stroke="#555" stroke-width="1.1" />
<line x1="401.5" y1="49" x2="401.5" y2="59.8" stroke="#6a6a6a" stroke-width="1.0" />
<line x1="398.7" y1="49" x2="404.3" y2="49" stroke="#555" stroke-width="1.1" />
<line x1="398.7" y1="59.8" x2="404.3" y2="59.8" stroke="#555" stroke-width="1.1" />
<line x1="413.5" y1="50" x2="413.5" y2="65" stroke="#6a6a6a" stroke-width="1.0" />
<line x1="410.7" y1="50" x2="416.3" y2="50" stroke="#555" stroke-width="1.1" />
<line x1="410.7" y1="65" x2="416.3" y2="65" stroke="#555" stroke-width="1.1" />
<line x1="425.5" y1="46" x2="425.5" y2="63" stroke="#6a6a6a" stroke-width="1.0" />
<line x1="422.7" y1="46" x2="428.3" y2="46" stroke="#555" stroke-width="1.1" />
<line x1="422.7" y1="63" x2="428.3" y2="63" stroke="#555" stroke-width="1.1" />
<line x1="432.5" y1="43" x2="432.5" y2="57" stroke="#6a6a6a" stroke-width="1.0" />
<line x1="429.7" y1="43" x2="435.3" y2="43" stroke="#555" stroke-width="1.1" />
<line x1="429.7" y1="57" x2="435.3" y2="57" stroke="#555" stroke-width="1.1" />
<line x1="440.5" y1="45" x2="440.5" y2="59" stroke="#6a6a6a" stroke-width="1.0" />
<line x1="437.7" y1="45" x2="443.3" y2="45" stroke="#555" stroke-width="1.1" />
<line x1="437.7" y1="59" x2="443.3" y2="59" stroke="#555" stroke-width="1.1" />
<line x1="451.5" y1="39" x2="451.5" y2="54" stroke="#6a6a6a" stroke-width="1.0" />
<line x1="448.7" y1="39" x2="454.3" y2="39" stroke="#555" stroke-width="1.1" />
<line x1="448.7" y1="54" x2="454.3" y2="54" stroke="#555" stroke-width="1.1" />
<line x1="468.5" y1="43" x2="468.5" y2="57" stroke="#6a6a6a" stroke-width="1.0" />
<line x1="465.7" y1="43" x2="471.3" y2="43" stroke="#555" stroke-width="1.1" />
<line x1="465.7" y1="57" x2="471.3" y2="57" stroke="#555" stroke-width="1.1" />
<line x1="484.5" y1="45" x2="484.5" y2="58" stroke="#6a6a6a" stroke-width="1.0" />
<line x1="481.7" y1="45" x2="487.3" y2="45" stroke="#555" stroke-width="1.1" />
<line x1="481.7" y1="58" x2="487.3" y2="58" stroke="#555" stroke-width="1.1" />
<line x1="502.5" y1="44" x2="502.5" y2="57" stroke="#6a6a6a" stroke-width="1.0" />
<line x1="499.7" y1="44" x2="505.3" y2="44" stroke="#555" stroke-width="1.1" />
<line x1="499.7" y1="57" x2="505.3" y2="57" stroke="#555" stroke-width="1.1" />
<line x1="318.5" y1="47" x2="318.5" y2="61" stroke="#6a6a6a" stroke-width="1.0" />
<line x1="315.7" y1="47" x2="321.3" y2="47" stroke="#555" stroke-width="1.1" />
<line x1="315.7" y1="61" x2="321.3" y2="61" stroke="#555" stroke-width="1.1" />
<line x1="327.5" y1="67" x2="327.5" y2="82" stroke="#6a6a6a" stroke-width="1.0" />
<line x1="324.7" y1="67" x2="330.3" y2="67" stroke="#555" stroke-width="1.1" />
<line x1="324.7" y1="82" x2="330.3" y2="82" stroke="#555" stroke-width="1.1" />
<line x1="339.5" y1="81" x2="339.5" y2="90" stroke="#6a6a6a" stroke-width="1.0" />
<line x1="336.7" y1="81" x2="342.3" y2="81" stroke="#555" stroke-width="1.1" />
<line x1="336.7" y1="90" x2="342.3" y2="90" stroke="#555" stroke-width="1.1" />
<line x1="346.5" y1="80.5" x2="346.5" y2="89.6" stroke="#6a6a6a" stroke-width="1.0" />
<line x1="343.7" y1="80.5" x2="349.3" y2="80.5" stroke="#555" stroke-width="1.1" />
<line x1="343.7" y1="89.6" x2="349.3" y2="89.6" stroke="#555" stroke-width="1.1" />
<line x1="356.5" y1="65" x2="356.5" y2="78" stroke="#6a6a6a" stroke-width="1.0" />
<line x1="353.7" y1="65" x2="359.3" y2="65" stroke="#555" stroke-width="1.1" />
<line x1="353.7" y1="78" x2="359.3" y2="78" stroke="#555" stroke-width="1.1" />
<line x1="363.5" y1="64" x2="363.5" y2="75.6" stroke="#6a6a6a" stroke-width="1.0" />
<line x1="360.7" y1="64" x2="366.3" y2="64" stroke="#555" stroke-width="1.1" />
<line x1="360.7" y1="75.6" x2="366.3" y2="75.6" stroke="#555" stroke-width="1.1" />
<line x1="375.5" y1="73.6" x2="375.5" y2="83.6" stroke="#6a6a6a" stroke-width="1.0" />
<line x1="372.7" y1="73.6" x2="378.3" y2="73.6" stroke="#555" stroke-width="1.1" />
<line x1="372.7" y1="83.6" x2="378.3" y2="83.6" stroke="#555" stroke-width="1.1" />
<line x1="382.5" y1="82.4" x2="382.5" y2="91.6" stroke="#6a6a6a" stroke-width="1.0" />
<line x1="379.7" y1="82.4" x2="385.3" y2="82.4" stroke="#555" stroke-width="1.1" />
<line x1="379.7" y1="91.6" x2="385.3" y2="91.6" stroke="#555" stroke-width="1.1" />
<line x1="392.5" y1="91" x2="392.5" y2="105.6" stroke="#6a6a6a" stroke-width="1.0" />
<line x1="389.7" y1="91" x2="395.3" y2="91" stroke="#555" stroke-width="1.1" />
<line x1="389.7" y1="105.6" x2="395.3" y2="105.6" stroke="#555" stroke-width="1.1" />
<line x1="401.5" y1="91" x2="401.5" y2="107" stroke="#6a6a6a" stroke-width="1.0" />
<line x1="398.7" y1="91" x2="404.3" y2="91" stroke="#555" stroke-width="1.1" />
<line x1="398.7" y1="107" x2="404.3" y2="107" stroke="#555" stroke-width="1.1" />
<line x1="413.5" y1="96" x2="413.5" y2="114" stroke="#6a6a6a" stroke-width="1.0" />
<line x1="410.7" y1="96" x2="416.3" y2="96" stroke="#555" stroke-width="1.1" />
<line x1="410.7" y1="114" x2="416.3" y2="114" stroke="#555" stroke-width="1.1" />
<line x1="425.5" y1="75.6" x2="425.5" y2="113.4" stroke="#6a6a6a" stroke-width="1.0" />
<line x1="422.7" y1="75.6" x2="428.3" y2="75.6" stroke="#555" stroke-width="1.1" />
<line x1="422.7" y1="113.4" x2="428.3" y2="113.4" stroke="#555" stroke-width="1.1" />
<line x1="432.5" y1="62" x2="432.5" y2="104.6" stroke="#6a6a6a" stroke-width="1.0" />
<line x1="429.7" y1="62" x2="435.3" y2="62" stroke="#555" stroke-width="1.1" />
<line x1="429.7" y1="104.6" x2="435.3" y2="104.6" stroke="#555" stroke-width="1.1" />
<line x1="440.5" y1="62" x2="440.5" y2="99" stroke="#6a6a6a" stroke-width="1.0" />
<line x1="437.7" y1="62" x2="443.3" y2="62" stroke="#555" stroke-width="1.1" />
<line x1="437.7" y1="99" x2="443.3" y2="99" stroke="#555" stroke-width="1.1" />
<line x1="451.5" y1="50" x2="451.5" y2="91" stroke="#6a6a6a" stroke-width="1.0" />
<line x1="448.7" y1="50" x2="454.3" y2="50" stroke="#555" stroke-width="1.1" />
<line x1="448.7" y1="91" x2="454.3" y2="91" stroke="#555" stroke-width="1.1" />
<line x1="468.5" y1="50" x2="468.5" y2="77" stroke="#6a6a6a" stroke-width="1.0" />
<line x1="465.7" y1="50" x2="471.3" y2="50" stroke="#555" stroke-width="1.1" />
<line x1="465.7" y1="77" x2="471.3" y2="77" stroke="#555" stroke-width="1.1" />
<line x1="484.5" y1="47.6" x2="484.5" y2="74.4" stroke="#6a6a6a" stroke-width="1.0" />
<line x1="481.7" y1="47.6" x2="487.3" y2="47.6" stroke="#555" stroke-width="1.1" />
<line x1="481.7" y1="74.4" x2="487.3" y2="74.4" stroke="#555" stroke-width="1.1" />
<line x1="502.5" y1="52" x2="502.5" y2="85.6" stroke="#6a6a6a" stroke-width="1.0" />
<line x1="499.7" y1="52" x2="505.3" y2="52" stroke="#555" stroke-width="1.1" />
<line x1="499.7" y1="85.6" x2="505.3" y2="85.6" stroke="#555" stroke-width="1.1" />
<polyline points="318,54 327.8,74 339.5,70.5 346.6,63 356.6,62.5 363.6,59.3 375.6,55.5 383,54.75 392,50.25 401.6,49.2 413.3,46.8 425.6,43.8 432.6,45.5 440,41.8 451.6,41 468,47 485,50.5 502,47.6" fill="none" stroke="#222" stroke-width="1.1" stroke-linejoin="round"/>
<polyline points="318,54 327.8,61.5 339.5,72 346.6,72 356.6,50.2 363.6,47.3 375.6,55.5 383,61.5 392,55.5 401.6,55.5 413.3,57 425.6,54 432.6,50 440,52 451.6,46 468,50 485,50.8 502,50.4" fill="none" stroke="#151515" stroke-width="1.1" stroke-linejoin="round"/>
<polyline points="318,54 327.8,74 339.5,85.6 346.6,85 356.6,70.8 363.6,70 375.6,79 383,87.6 392,98 401.6,99 413.3,105 425.6,93.6 432.6,83 440,75.6 451.6,70.6 468,63.6 485,61 502,69" fill="none" stroke="#111" stroke-width="1.15" stroke-linejoin="round"/>
<polygon points="315.5,52.33 320.5,52.33 318,57.33" fill="#fff" fill-opacity="1.0" stroke="#2a2a2a" stroke-width="1.05" stroke-linejoin="miter"/>
<polygon points="325.3,59.83 330.3,59.83 327.8,64.83" fill="#fff" fill-opacity="1.0" stroke="#2a2a2a" stroke-width="1.05" stroke-linejoin="miter"/>
<polygon points="337,70.33 342,70.33 339.5,75.33" fill="#fff" fill-opacity="1.0" stroke="#2a2a2a" stroke-width="1.05" stroke-linejoin="miter"/>
<polygon points="344.1,70.33 349.1,70.33 346.6,75.33" fill="#fff" fill-opacity="1.0" stroke="#2a2a2a" stroke-width="1.05" stroke-linejoin="miter"/>
<polygon points="354.1,48.53 359.1,48.53 356.6,53.53" fill="#fff" fill-opacity="1.0" stroke="#2a2a2a" stroke-width="1.05" stroke-linejoin="miter"/>
<polygon points="361.1,45.63 366.1,45.63 363.6,50.63" fill="#fff" fill-opacity="1.0" stroke="#2a2a2a" stroke-width="1.05" stroke-linejoin="miter"/>
<polygon points="373.1,53.83 378.1,53.83 375.6,58.83" fill="#fff" fill-opacity="1.0" stroke="#2a2a2a" stroke-width="1.05" stroke-linejoin="miter"/>
<polygon points="380.5,59.83 385.5,59.83 383,64.83" fill="#fff" fill-opacity="1.0" stroke="#2a2a2a" stroke-width="1.05" stroke-linejoin="miter"/>
<polygon points="389.5,53.83 394.5,53.83 392,58.83" fill="#fff" fill-opacity="1.0" stroke="#2a2a2a" stroke-width="1.05" stroke-linejoin="miter"/>
<polygon points="399.1,53.83 404.1,53.83 401.6,58.83" fill="#fff" fill-opacity="1.0" stroke="#2a2a2a" stroke-width="1.05" stroke-linejoin="miter"/>
<polygon points="410.8,55.33 415.8,55.33 413.3,60.33" fill="#fff" fill-opacity="1.0" stroke="#2a2a2a" stroke-width="1.05" stroke-linejoin="miter"/>
<polygon points="423.1,52.33 428.1,52.33 425.6,57.33" fill="#fff" fill-opacity="1.0" stroke="#2a2a2a" stroke-width="1.05" stroke-linejoin="miter"/>
<polygon points="430.1,48.33 435.1,48.33 432.6,53.33" fill="#fff" fill-opacity="1.0" stroke="#2a2a2a" stroke-width="1.05" stroke-linejoin="miter"/>
<polygon points="437.5,50.33 442.5,50.33 440,55.33" fill="#fff" fill-opacity="1.0" stroke="#2a2a2a" stroke-width="1.05" stroke-linejoin="miter"/>
<polygon points="449.1,44.33 454.1,44.33 451.6,49.33" fill="#fff" fill-opacity="1.0" stroke="#2a2a2a" stroke-width="1.05" stroke-linejoin="miter"/>
<polygon points="465.5,48.33 470.5,48.33 468,53.33" fill="#fff" fill-opacity="1.0" stroke="#2a2a2a" stroke-width="1.05" stroke-linejoin="miter"/>
<polygon points="482.5,49.13 487.5,49.13 485,54.13" fill="#fff" fill-opacity="1.0" stroke="#2a2a2a" stroke-width="1.05" stroke-linejoin="miter"/>
<polygon points="499.5,48.73 504.5,48.73 502,53.73" fill="#fff" fill-opacity="1.0" stroke="#2a2a2a" stroke-width="1.05" stroke-linejoin="miter"/>
<polygon points="315.3,52.2 320.7,52.2 318,57.6" fill="#000" stroke="#000" stroke-width="0.4"/>
<polygon points="325.1,72.2 330.5,72.2 327.8,77.6" fill="#000" stroke="#000" stroke-width="0.4"/>
<polygon points="336.8,83.8 342.2,83.8 339.5,89.2" fill="#000" stroke="#000" stroke-width="0.4"/>
<polygon points="343.9,83.2 349.3,83.2 346.6,88.6" fill="#000" stroke="#000" stroke-width="0.4"/>
<polygon points="353.9,69 359.3,69 356.6,74.4" fill="#000" stroke="#000" stroke-width="0.4"/>
<polygon points="360.9,68.2 366.3,68.2 363.6,73.6" fill="#000" stroke="#000" stroke-width="0.4"/>
<polygon points="372.9,77.2 378.3,77.2 375.6,82.6" fill="#000" stroke="#000" stroke-width="0.4"/>
<polygon points="380.3,85.8 385.7,85.8 383,91.2" fill="#000" stroke="#000" stroke-width="0.4"/>
<polygon points="389.3,96.2 394.7,96.2 392,101.6" fill="#000" stroke="#000" stroke-width="0.4"/>
<polygon points="398.9,97.2 404.3,97.2 401.6,102.6" fill="#000" stroke="#000" stroke-width="0.4"/>
<polygon points="410.6,103.2 416,103.2 413.3,108.6" fill="#000" stroke="#000" stroke-width="0.4"/>
<polygon points="422.9,91.8 428.3,91.8 425.6,97.2" fill="#000" stroke="#000" stroke-width="0.4"/>
<polygon points="429.9,81.2 435.3,81.2 432.6,86.6" fill="#000" stroke="#000" stroke-width="0.4"/>
<polygon points="437.3,73.8 442.7,73.8 440,79.2" fill="#000" stroke="#000" stroke-width="0.4"/>
<polygon points="448.9,68.8 454.3,68.8 451.6,74.2" fill="#000" stroke="#000" stroke-width="0.4"/>
<polygon points="465.3,61.8 470.7,61.8 468,67.2" fill="#000" stroke="#000" stroke-width="0.4"/>
<polygon points="482.3,59.2 487.7,59.2 485,64.6" fill="#000" stroke="#000" stroke-width="0.4"/>
<polygon points="499.3,67.2 504.7,67.2 502,72.6" fill="#000" stroke="#000" stroke-width="0.4"/>
<g stroke="#1a1a1a" stroke-width="1.1"><line x1="315.7" y1="54" x2="320.3" y2="54"/><line x1="316.62" y1="52.05" x2="319.38" y2="55.95"/><line x1="316.62" y1="55.95" x2="319.38" y2="52.05"/></g>
<circle cx="318" cy="54" r="1.25" fill="#1a1a1a"/>
<g stroke="#1a1a1a" stroke-width="1.1"><line x1="325.5" y1="74" x2="330.1" y2="74"/><line x1="326.42" y1="72.05" x2="329.18" y2="75.95"/><line x1="326.42" y1="75.95" x2="329.18" y2="72.05"/></g>
<circle cx="327.8" cy="74" r="1.25" fill="#1a1a1a"/>
<g stroke="#1a1a1a" stroke-width="1.1"><line x1="337.2" y1="70.5" x2="341.8" y2="70.5"/><line x1="338.12" y1="68.55" x2="340.88" y2="72.45"/><line x1="338.12" y1="72.45" x2="340.88" y2="68.55"/></g>
<circle cx="339.5" cy="70.5" r="1.25" fill="#1a1a1a"/>
<g stroke="#1a1a1a" stroke-width="1.1"><line x1="344.3" y1="63" x2="348.9" y2="63"/><line x1="345.22" y1="61.05" x2="347.98" y2="64.95"/><line x1="345.22" y1="64.95" x2="347.98" y2="61.05"/></g>
<circle cx="346.6" cy="63" r="1.25" fill="#1a1a1a"/>
<g stroke="#1a1a1a" stroke-width="1.1"><line x1="354.3" y1="62.5" x2="358.9" y2="62.5"/><line x1="355.22" y1="60.55" x2="357.98" y2="64.45"/><line x1="355.22" y1="64.45" x2="357.98" y2="60.55"/></g>
<circle cx="356.6" cy="62.5" r="1.25" fill="#1a1a1a"/>
<g stroke="#1a1a1a" stroke-width="1.1"><line x1="361.3" y1="59.3" x2="365.9" y2="59.3"/><line x1="362.22" y1="57.34" x2="364.98" y2="61.25"/><line x1="362.22" y1="61.25" x2="364.98" y2="57.34"/></g>
<circle cx="363.6" cy="59.3" r="1.25" fill="#1a1a1a"/>
<g stroke="#1a1a1a" stroke-width="1.1"><line x1="373.3" y1="55.5" x2="377.9" y2="55.5"/><line x1="374.22" y1="53.55" x2="376.98" y2="57.45"/><line x1="374.22" y1="57.45" x2="376.98" y2="53.55"/></g>
<circle cx="375.6" cy="55.5" r="1.25" fill="#1a1a1a"/>
<g stroke="#1a1a1a" stroke-width="1.1"><line x1="380.7" y1="54.75" x2="385.3" y2="54.75"/><line x1="381.62" y1="52.8" x2="384.38" y2="56.7"/><line x1="381.62" y1="56.7" x2="384.38" y2="52.8"/></g>
<circle cx="383" cy="54.75" r="1.25" fill="#1a1a1a"/>
<g stroke="#1a1a1a" stroke-width="1.1"><line x1="389.7" y1="50.25" x2="394.3" y2="50.25"/><line x1="390.62" y1="48.3" x2="393.38" y2="52.2"/><line x1="390.62" y1="52.2" x2="393.38" y2="48.3"/></g>
<circle cx="392" cy="50.25" r="1.25" fill="#1a1a1a"/>
<g stroke="#1a1a1a" stroke-width="1.1"><line x1="399.3" y1="49.2" x2="403.9" y2="49.2"/><line x1="400.22" y1="47.25" x2="402.98" y2="51.16"/><line x1="400.22" y1="51.16" x2="402.98" y2="47.25"/></g>
<circle cx="401.6" cy="49.2" r="1.25" fill="#1a1a1a"/>
<g stroke="#1a1a1a" stroke-width="1.1"><line x1="411" y1="46.8" x2="415.6" y2="46.8"/><line x1="411.92" y1="44.84" x2="414.68" y2="48.75"/><line x1="411.92" y1="48.75" x2="414.68" y2="44.84"/></g>
<circle cx="413.3" cy="46.8" r="1.25" fill="#1a1a1a"/>
<g stroke="#1a1a1a" stroke-width="1.1"><line x1="423.3" y1="43.8" x2="427.9" y2="43.8"/><line x1="424.22" y1="41.84" x2="426.98" y2="45.75"/><line x1="424.22" y1="45.75" x2="426.98" y2="41.84"/></g>
<circle cx="425.6" cy="43.8" r="1.25" fill="#1a1a1a"/>
<g stroke="#1a1a1a" stroke-width="1.1"><line x1="430.3" y1="45.5" x2="434.9" y2="45.5"/><line x1="431.22" y1="43.55" x2="433.98" y2="47.45"/><line x1="431.22" y1="47.45" x2="433.98" y2="43.55"/></g>
<circle cx="432.6" cy="45.5" r="1.25" fill="#1a1a1a"/>
<g stroke="#1a1a1a" stroke-width="1.1"><line x1="437.7" y1="41.8" x2="442.3" y2="41.8"/><line x1="438.62" y1="39.84" x2="441.38" y2="43.75"/><line x1="438.62" y1="43.75" x2="441.38" y2="39.84"/></g>
<circle cx="440" cy="41.8" r="1.25" fill="#1a1a1a"/>
<g stroke="#1a1a1a" stroke-width="1.1"><line x1="449.3" y1="41" x2="453.9" y2="41"/><line x1="450.22" y1="39.05" x2="452.98" y2="42.95"/><line x1="450.22" y1="42.95" x2="452.98" y2="39.05"/></g>
<circle cx="451.6" cy="41" r="1.25" fill="#1a1a1a"/>
<g stroke="#1a1a1a" stroke-width="1.1"><line x1="465.7" y1="47" x2="470.3" y2="47"/><line x1="466.62" y1="45.05" x2="469.38" y2="48.95"/><line x1="466.62" y1="48.95" x2="469.38" y2="45.05"/></g>
<circle cx="468" cy="47" r="1.25" fill="#1a1a1a"/>
<g stroke="#1a1a1a" stroke-width="1.1"><line x1="482.7" y1="50.5" x2="487.3" y2="50.5"/><line x1="483.62" y1="48.55" x2="486.38" y2="52.45"/><line x1="483.62" y1="52.45" x2="486.38" y2="48.55"/></g>
<circle cx="485" cy="50.5" r="1.25" fill="#1a1a1a"/>
<g stroke="#1a1a1a" stroke-width="1.1"><line x1="499.7" y1="47.6" x2="504.3" y2="47.6"/><line x1="500.62" y1="45.65" x2="503.38" y2="49.55"/><line x1="500.62" y1="49.55" x2="503.38" y2="45.65"/></g>
<circle cx="502" cy="47.6" r="1.25" fill="#1a1a1a"/>
<line x1="52.5" y1="206.8" x2="52.5" y2="340.4" stroke="#000" stroke-width="1.4" />
<line x1="48.2" y1="213.75" x2="52.5" y2="213.75" stroke="#000" stroke-width="1.3" />
<text transform="translate(47.1 217.15) scale(0.93 1)" font-size="9.6" font-weight="bold" text-anchor="end" fill="#000" stroke="#000" stroke-width="0.25">100</text>
<line x1="48.2" y1="244.51" x2="52.5" y2="244.51" stroke="#000" stroke-width="1.3" />
<text transform="translate(47.1 247.91) scale(0.93 1)" font-size="9.6" font-weight="bold" text-anchor="end" fill="#000" stroke="#000" stroke-width="0.25">75</text>
<line x1="48.2" y1="275.27" x2="52.5" y2="275.27" stroke="#000" stroke-width="1.3" />
<text transform="translate(47.1 278.67) scale(0.93 1)" font-size="9.6" font-weight="bold" text-anchor="end" fill="#000" stroke="#000" stroke-width="0.25">50</text>
<line x1="48.2" y1="306.04" x2="52.5" y2="306.04" stroke="#000" stroke-width="1.3" />
<text transform="translate(47.1 309.44) scale(0.93 1)" font-size="9.6" font-weight="bold" text-anchor="end" fill="#000" stroke="#000" stroke-width="0.25">25</text>
<line x1="48.2" y1="336.8" x2="52.5" y2="336.8" stroke="#000" stroke-width="1.3" />
<text transform="translate(47.1 340.2) scale(0.93 1)" font-size="9.6" font-weight="bold" text-anchor="end" fill="#000" stroke="#000" stroke-width="0.25">0</text>
<line x1="48.2" y1="336.8" x2="246.6" y2="336.8" stroke="#000" stroke-width="1.7" />
<line x1="52.4" y1="336.8" x2="52.4" y2="340.4" stroke="#000" stroke-width="1.3" />
<text transform="translate(52.4 351.2) scale(0.93 1)" font-size="9.6" font-weight="bold" text-anchor="middle" fill="#000" stroke="#000" stroke-width="0.25">0</text>
<line x1="113" y1="336.8" x2="113" y2="340.4" stroke="#000" stroke-width="1.3" />
<text transform="translate(113 351.2) scale(0.93 1)" font-size="9.6" font-weight="bold" text-anchor="middle" fill="#000" stroke="#000" stroke-width="0.25">25</text>
<line x1="174.4" y1="336.8" x2="174.4" y2="340.4" stroke="#000" stroke-width="1.3" />
<text transform="translate(174.4 351.2) scale(0.93 1)" font-size="9.6" font-weight="bold" text-anchor="middle" fill="#000" stroke="#000" stroke-width="0.25">50</text>
<line x1="233.6" y1="336.8" x2="233.6" y2="340.4" stroke="#000" stroke-width="1.3" />
<text transform="translate(233.6 351.2) scale(0.93 1)" font-size="9.6" font-weight="bold" text-anchor="middle" fill="#000" stroke="#000" stroke-width="0.25">75</text>
<text transform="translate(150.35 364.8)" font-size="9.9" font-weight="bold" text-anchor="middle" fill="#000" stroke="#000" stroke-width="0.3">Time</text>
<text transform="translate(26 271.3) rotate(-90)" font-size="11" font-weight="bold" text-anchor="middle" fill="#000" stroke="#000" stroke-width="0.2">Percent survival</text>
<path d="M53,214.2 L76.5,214.2 L76.5,244.4 L113.5,244.4 L113.5,259.8 L120.5,259.8 L120.5,275.2 L135.5,275.2 L135.5,290.6 L150.5,290.6 L150.5,306.2 L188.5,306.2 L188.5,321.3 L233,321.3" fill="none" stroke="#5a5a5a" stroke-width="1.3"/>
<path d="M53,214.2 L58.5,214.2 L58.5,228.9 L111.5,228.9 L111.5,244.4 L147.5,244.4 L147.5,259.8 L157.5,259.8 L157.5,275.2 L172.5,275.2 L172.5,290.6 L184.5,290.6 L184.5,306.2 L223.5,306.2 L223.5,321.3 L233.5,321.3 L233.5,336.8" fill="none" stroke="#7a7a7a" stroke-width="1.5"/>
<path d="M53,214.2 L123.5,214.2 L123.5,228.9 L232.8,228.9" fill="none" stroke="#8c8c8c" stroke-width="1.6"/>
<clipPath id="cB"><rect x="40" y="200" width="220" height="136.2"/></clipPath><g clip-path="url(#cB)">
<polygon points="55.9,226.25 61.1,226.25 58.5,231.55" fill="#fff" fill-opacity="0.75" stroke="#444" stroke-width="1.0" stroke-linejoin="miter"/>
<polygon points="108.9,241.75 114.1,241.75 111.5,247.05" fill="#fff" fill-opacity="0.75" stroke="#444" stroke-width="1.0" stroke-linejoin="miter"/>
<polygon points="144.9,257.15 150.1,257.15 147.5,262.45" fill="#fff" fill-opacity="0.75" stroke="#444" stroke-width="1.0" stroke-linejoin="miter"/>
<polygon points="154.9,272.55 160.1,272.55 157.5,277.85" fill="#fff" fill-opacity="0.75" stroke="#444" stroke-width="1.0" stroke-linejoin="miter"/>
<polygon points="169.9,287.95 175.1,287.95 172.5,293.25" fill="#fff" fill-opacity="0.75" stroke="#444" stroke-width="1.0" stroke-linejoin="miter"/>
<polygon points="181.9,303.55 187.1,303.55 184.5,308.85" fill="#fff" fill-opacity="0.75" stroke="#444" stroke-width="1.0" stroke-linejoin="miter"/>
<polygon points="220.9,318.65 226.1,318.65 223.5,323.95" fill="#fff" fill-opacity="0.75" stroke="#444" stroke-width="1.0" stroke-linejoin="miter"/>
<polygon points="230.9,334.15 236.1,334.15 233.5,339.45" fill="#fff" fill-opacity="0.75" stroke="#444" stroke-width="1.0" stroke-linejoin="miter"/>
</g>
<polygon points="73.8,241.7 79.2,241.7 76.5,247.1" fill="#000" stroke="#000" stroke-width="0.4"/>
<polygon points="110.8,257.1 116.2,257.1 113.5,262.5" fill="#000" stroke="#000" stroke-width="0.4"/>
<polygon points="117.8,272.5 123.2,272.5 120.5,277.9" fill="#000" stroke="#000" stroke-width="0.4"/>
<polygon points="132.8,287.9 138.2,287.9 135.5,293.3" fill="#000" stroke="#000" stroke-width="0.4"/>
<polygon points="147.8,303.5 153.2,303.5 150.5,308.9" fill="#000" stroke="#000" stroke-width="0.4"/>
<polygon points="185.8,318.6 191.2,318.6 188.5,324" fill="#000" stroke="#000" stroke-width="0.4"/>
<polygon points="230.3,318.6 235.7,318.6 233,324" fill="#000" stroke="#000" stroke-width="0.4"/>
<rect x="121.6" y="227.1" width="3.8" height="3.8" rx="0.6" fill="#111"/>
<g stroke="#444" stroke-width="0.8"><line x1="120.9" y1="226.4" x2="126.1" y2="231.6"/><line x1="120.9" y1="231.6" x2="126.1" y2="226.4"/></g>
<rect x="230.9" y="227.1" width="3.8" height="3.8" rx="0.6" fill="#111"/>
<g stroke="#444" stroke-width="0.8"><line x1="230.2" y1="226.4" x2="235.4" y2="231.6"/><line x1="230.2" y1="231.6" x2="235.4" y2="226.4"/></g>
<line x1="322.5" y1="207" x2="322.5" y2="340.1" stroke="#000" stroke-width="1.4" />
<line x1="318.2" y1="214" x2="322.5" y2="214" stroke="#000" stroke-width="1.3" />
<text transform="translate(317.1 217.4) scale(0.93 1)" font-size="9.6" font-weight="bold" text-anchor="end" fill="#000" stroke="#000" stroke-width="0.25">100</text>
<line x1="318.2" y1="244.62" x2="322.5" y2="244.62" stroke="#000" stroke-width="1.3" />
<text transform="translate(317.1 248.03) scale(0.93 1)" font-size="9.6" font-weight="bold" text-anchor="end" fill="#000" stroke="#000" stroke-width="0.25">75</text>
<line x1="318.2" y1="275.25" x2="322.5" y2="275.25" stroke="#000" stroke-width="1.3" />
<text transform="translate(317.1 278.65) scale(0.93 1)" font-size="9.6" font-weight="bold" text-anchor="end" fill="#000" stroke="#000" stroke-width="0.25">50</text>
<line x1="318.2" y1="305.88" x2="322.5" y2="305.88" stroke="#000" stroke-width="1.3" />
<text transform="translate(317.1 309.27) scale(0.93 1)" font-size="9.6" font-weight="bold" text-anchor="end" fill="#000" stroke="#000" stroke-width="0.25">25</text>
<line x1="318.2" y1="336.5" x2="322.5" y2="336.5" stroke="#000" stroke-width="1.3" />
<text transform="translate(317.1 339.9) scale(0.93 1)" font-size="9.6" font-weight="bold" text-anchor="end" fill="#000" stroke="#000" stroke-width="0.25">0</text>
<line x1="318.2" y1="336.5" x2="516.6" y2="336.5" stroke="#000" stroke-width="1.7" />
<line x1="322.4" y1="336.5" x2="322.4" y2="340.1" stroke="#000" stroke-width="1.3" />
<text transform="translate(322.4 350.9) scale(0.93 1)" font-size="9.6" font-weight="bold" text-anchor="middle" fill="#000" stroke="#000" stroke-width="0.25">0</text>
<line x1="383.4" y1="336.5" x2="383.4" y2="340.1" stroke="#000" stroke-width="1.3" />
<text transform="translate(383.4 350.9) scale(0.93 1)" font-size="9.6" font-weight="bold" text-anchor="middle" fill="#000" stroke="#000" stroke-width="0.25">25</text>
<line x1="444.4" y1="336.5" x2="444.4" y2="340.1" stroke="#000" stroke-width="1.3" />
<text transform="translate(444.4 350.9) scale(0.93 1)" font-size="9.6" font-weight="bold" text-anchor="middle" fill="#000" stroke="#000" stroke-width="0.25">50</text>
<line x1="504.4" y1="336.5" x2="504.4" y2="340.1" stroke="#000" stroke-width="1.3" />
<text transform="translate(504.4 350.9) scale(0.93 1)" font-size="9.6" font-weight="bold" text-anchor="middle" fill="#000" stroke="#000" stroke-width="0.25">75</text>
<text transform="translate(420.35 364.5)" font-size="9.9" font-weight="bold" text-anchor="middle" fill="#000" stroke="#000" stroke-width="0.3">Time</text>
<text transform="translate(296.5 271.3) rotate(-90)" font-size="11" font-weight="bold" text-anchor="middle" fill="#000" stroke="#000" stroke-width="0.2">Percent survival</text>
<path d="M323,214.2 L417.5,214.2 L417.5,231.4 L420.5,231.4 L420.5,249.2 L422.5,249.2 L422.5,267 L426.5,267 L426.5,284.8 L429.5,284.8 L429.5,302 L502.8,302" fill="none" stroke="#5a5a5a" stroke-width="1.3"/>
<path d="M323,214.2 L366.5,214.2 L366.5,228.9 L393.5,228.9 L393.5,244.4 L502.8,244.4" fill="none" stroke="#7a7a7a" stroke-width="1.5"/>
<path d="M323,214.2 L393.5,214.2 L393.5,228.9 L502.8,228.9" fill="none" stroke="#8c8c8c" stroke-width="1.6"/>
<polygon points="363.9,226.25 369.1,226.25 366.5,231.55" fill="#fff" fill-opacity="0.75" stroke="#444" stroke-width="1.0" stroke-linejoin="miter"/>
<polygon points="390.9,241.75 396.1,241.75 393.5,247.05" fill="#fff" fill-opacity="0.75" stroke="#444" stroke-width="1.0" stroke-linejoin="miter"/>
<polygon points="500.2,241.75 505.4,241.75 502.8,247.05" fill="#fff" fill-opacity="0.75" stroke="#444" stroke-width="1.0" stroke-linejoin="miter"/>
<polygon points="412.8,211.5 418.2,211.5 415.5,216.9" fill="#000" stroke="#000" stroke-width="0.4"/>
<polygon points="414.8,228.7 420.2,228.7 417.5,234.1" fill="#000" stroke="#000" stroke-width="0.4"/>
<polygon points="417.8,246.5 423.2,246.5 420.5,251.9" fill="#000" stroke="#000" stroke-width="0.4"/>
<polygon points="419.8,264.3 425.2,264.3 422.5,269.7" fill="#000" stroke="#000" stroke-width="0.4"/>
<polygon points="423.8,282.1 429.2,282.1 426.5,287.5" fill="#000" stroke="#000" stroke-width="0.4"/>
<polygon points="426.8,299.3 432.2,299.3 429.5,304.7" fill="#000" stroke="#000" stroke-width="0.4"/>
<polygon points="500.1,299.3 505.5,299.3 502.8,304.7" fill="#000" stroke="#000" stroke-width="0.4"/>
<rect x="391.6" y="227.1" width="3.8" height="3.8" rx="0.6" fill="#111"/>
<g stroke="#444" stroke-width="0.8"><line x1="390.9" y1="226.4" x2="396.1" y2="231.6"/><line x1="390.9" y1="231.6" x2="396.1" y2="226.4"/></g>
<rect x="500.9" y="227.1" width="3.8" height="3.8" rx="0.6" fill="#111"/>
<g stroke="#444" stroke-width="0.8"><line x1="500.2" y1="226.4" x2="505.4" y2="231.6"/><line x1="500.2" y1="231.6" x2="505.4" y2="226.4"/></g>
</svg>
</body></html>
